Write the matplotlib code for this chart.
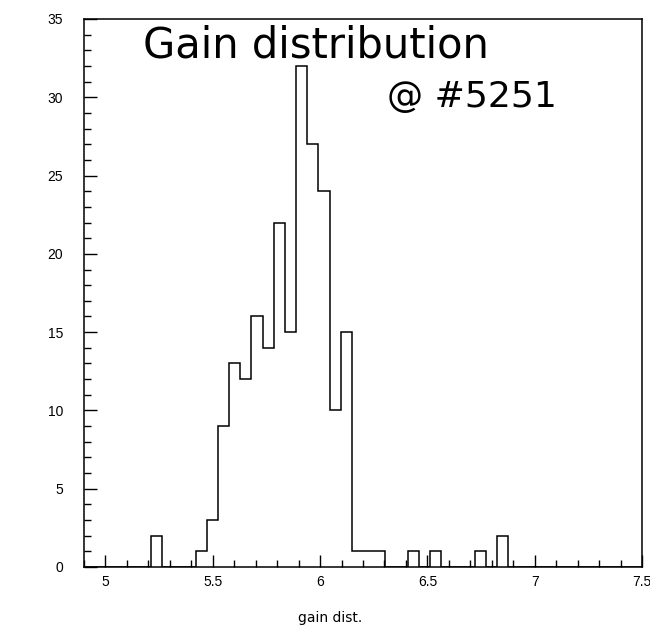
import numpy as np
import matplotlib
matplotlib.use("Agg")
import matplotlib.pyplot as plt
from matplotlib.ticker import MultipleLocator

# histogram range / binning (PAW style, 50 bins)
x_lo = 4.9
x_hi = 7.5
n_bins = 50

# counts per bin
counts = [0, 0, 0, 0, 0, 0, 2, 0, 0, 0,
          1, 3, 9, 13, 12, 16, 14, 22, 15, 32,
          27, 24, 10, 15, 1, 1, 1, 0, 0, 1,
          0, 1, 0, 0, 0, 1, 0, 2, 0, 0,
          0, 0, 0, 0, 0, 0, 0, 0, 0, 0]

x_ticks = [5, 5.5, 6, 6.5, 7, 7.5]
x_ticklabels = ["5", "5.5", "6", "6.5", "7", "7.5"]
y_ticks = [0, 5, 10, 15, 20, 25, 30, 35]

title1 = "Gain distribution"
title2 = "@ #5251"

plt.rcParams['font.family'] = ['Liberation Sans', 'DejaVu Sans']

fig = plt.figure(figsize=(6.5, 6.29), dpi=100)
ax = fig.add_axes([84/650, 1-567/629, (642-84)/650, (567-19)/629])

edges = np.linspace(x_lo, x_hi, n_bins + 1)
ax.stairs(counts, edges, color="black", lw=1.1)

ax.set_xlim(x_lo, x_hi)
ax.set_ylim(0, 35)
ax.set_xticks(x_ticks)
ax.set_xticklabels(x_ticklabels)
ax.set_yticks(y_ticks)
ax.xaxis.set_minor_locator(MultipleLocator(0.1))
ax.yaxis.set_minor_locator(MultipleLocator(1))
ax.tick_params(which="both", direction="in", top=False, right=False,
               labelsize=10, color="black")
ax.tick_params(which="major", length=9, width=1)
ax.tick_params(which="minor", length=5, width=1)
ax.tick_params(axis="x", which="major", pad=6)
ax.tick_params(axis="y", which="major", pad=15)
for s in ax.spines.values():
    s.set_linewidth(1.1)

fig.text(330/650, 1-618/629, "gain dist.", ha="center", va="center", fontsize=10,
         family=["DejaVu Sans"])

# handwritten notes
fig.text(143/650, 1-45/629, title1, ha="left", va="center", fontsize=30,
         family=["DejaVu Sans"])
fig.text(387/650, 1-97/629, title2, ha="left", va="center", fontsize=26,
         family=["DejaVu Sans"])

fig.savefig("out.png", dpi=100)
